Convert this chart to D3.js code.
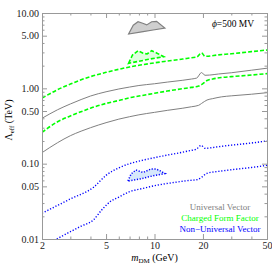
<!DOCTYPE html>
<html>
<head>
<meta charset="utf-8">
<script src="https://d3js.org/d3.v7.min.js"></script>
<style>
body { margin:0; background:white; }
text { font-family:"Liberation Serif","Times New Roman",serif; }
.frame path, .frame line { stroke:#999; }
</style>
</head>
<body>
<svg id="chart"></svg>
<script>
// curves: [m_DM (GeV), Lambda_eff (TeV)]
var univHigh = [[2,0.40],[2.5,0.52],[3,0.62],[3.5,0.71],[4,0.79],[5,0.90],[6,0.98],[7,1.04],[8,1.09],[10,1.15],[12,1.21],[15,1.28],[17,1.33],[18.3,1.37],[19.6,1.62],[20.6,1.49],[22,1.50],[25,1.55],[30,1.61],[40,1.74],[50,1.85]];
var univLow = [[2,0.14],[2.5,0.19],[3,0.235],[3.5,0.27],[4,0.30],[5,0.35],[6,0.39],[7,0.42],[8,0.445],[10,0.48],[12,0.51],[15,0.545],[17,0.57],[18.8,0.595],[19.6,0.63],[21.2,0.70],[23,0.73],[26,0.77],[30,0.795],[40,0.835],[50,0.875]];
var cffHigh = [[2,0.74],[2.5,0.96],[3,1.14],[3.5,1.30],[4,1.43],[5,1.63],[6,1.79],[7,1.92],[8,2.02],[10,2.18],[12,2.30],[15,2.45],[17,2.55],[18.3,2.60],[19.6,2.95],[20.6,2.66],[25,2.78],[30,2.88],[40,3.07],[50,3.23]];
var cffLow = [[2,0.26],[2.5,0.36],[3,0.43],[3.5,0.49],[4,0.545],[5,0.63],[6,0.69],[7,0.75],[8,0.79],[10,0.86],[12,0.92],[15,0.99],[17,1.03],[18.8,1.07],[19.6,1.12],[21.2,1.27],[23,1.33],[26,1.39],[30,1.43],[40,1.50],[50,1.57]];
var nuvHigh = [[2,0.022],[3,0.034],[4.2,0.049],[5,0.070],[6,0.088],[7,0.100],[8,0.108],[10,0.120],[12,0.130],[14,0.138],[16.6,0.149],[18.2,0.156],[19.5,0.175],[20.6,0.160],[25,0.168],[30,0.176],[40,0.188],[50,0.200]];
var nuvLow = [[2.47,0.01],[3,0.0125],[3.5,0.0148],[4.17,0.0179],[4.7,0.0243],[5.3,0.0313],[6,0.036],[7,0.0425],[8.5,0.047],[10,0.051],[13,0.056],[16.6,0.060],[18.5,0.0615],[19.6,0.066],[21.2,0.0745],[25,0.079],[30,0.083],[40,0.089],[50,0.095]];

// closed regions
var univIsland = [[6.9,5.25],[7.38,6.9],[7.9,7.65],[8.45,7.3],[8.95,6.95],[9.6,7.65],[10.3,7.75],[11.6,6.3],[9.8,5.95],[8.5,5.65]];
var cffIsland = [[6.9,2.15],[7.3,2.77],[7.9,3.16],[8.5,2.92],[9.0,2.86],[9.6,3.16],[10.3,2.95],[11.4,2.63],[9.2,2.43]];
var nuvIsland = [[6.84,0.0589],[7.15,0.0729],[7.67,0.0824],[8.48,0.0763],[9.51,0.0849],[10.07,0.085],[10.6,0.0824],[11.62,0.074],[9.38,0.0676],[8.12,0.0625]];

var xTicks = [2,5,10,20,50];
var xMinor = [3,4,6,7,8,9,30,40];
var yTicks = [10,5,1,0.5,0.1,0.05,0.01];
var yMinor = [0.02,0.03,0.04,0.06,0.07,0.08,0.09,0.2,0.3,0.4,0.6,0.7,0.8,0.9,2,3,4,6,7,8,9];

var legendNames = ["Universal Vector","Charged Form Factor","Non\u2212Universal Vector"];
var legendColors = ["#808080","#00ff00","#0000ff"];

var screen = {width:272, height:267};
var margins = {top:13, bottom:28, left:42, right:5};
var graph = {
    width:screen.width-margins.left-margins.right,
    height:screen.height-margins.top-margins.bottom
};

var svg = d3.select("#chart")
    .attr("width", screen.width)
    .attr("height", screen.height);

var x = d3.scaleLog().domain([2,50]).range([0,graph.width]);
var y = d3.scaleLog().domain([0.01,10]).range([graph.height,0]);

svg.append("defs").append("clipPath")
    .attr("id","clip")
    .append("rect")
    .attr("width", graph.width)
    .attr("height", graph.height);

var g = svg.append("g")
    .attr("transform","translate("+margins.left+","+margins.top+")");

var plot = g.append("g").attr("clip-path","url(#clip)");

var line = d3.line()
    .x(function(d){ return x(d[0]); })
    .y(function(d){ return y(d[1]); })
    .curve(d3.curveMonotoneX);

var shape = d3.line()
    .x(function(d){ return x(d[0]); })
    .y(function(d){ return y(d[1]); })
    .curve(d3.curveLinearClosed);

// islands
plot.append("path").datum(univIsland)
    .attr("d", shape)
    .attr("fill","#cfcfcf")
    .attr("stroke","#808080")
    .attr("stroke-width",1.2);
plot.append("path").datum(cffIsland)
    .attr("d", shape)
    .attr("fill","#e0ffe0")
    .attr("stroke","#00ff00")
    .attr("stroke-width",1.6)
    .attr("stroke-dasharray","4,2");
plot.append("path").datum(nuvIsland)
    .attr("d", shape)
    .attr("fill","#d6e8fb")
    .attr("stroke","#0000ff")
    .attr("stroke-width",1.5)
    .attr("stroke-dasharray","1.2,1.6");

// curves
var curves = [
    {data:univHigh, color:"#808080", width:1, dash:null},
    {data:univLow, color:"#808080", width:1, dash:null},
    {data:cffHigh, color:"#00ff00", width:1.6, dash:"4,2"},
    {data:cffLow, color:"#00ff00", width:1.6, dash:"4,2"},
    {data:nuvHigh, color:"#0000ff", width:1.4, dash:"1.2,1.8"},
    {data:nuvLow, color:"#0000ff", width:1.4, dash:"1.2,1.8"}
];
curves.forEach(function(c)
{
    plot.append("path").datum(c.data)
        .attr("d", line)
        .attr("fill","none")
        .attr("stroke", c.color)
        .attr("stroke-width", c.width)
        .attr("stroke-dasharray", c.dash);
});

// frame with inward ticks
var fmtY = d3.format(".2f");
var addAxis = function(axis, tx, ty)
{
    var a = g.append("g")
        .classed("frame", true)
        .attr("transform","translate("+tx+","+ty+")")
        .call(axis);
    a.selectAll("text")
        .attr("font-size", 10)
        .attr("fill","#222");
    return a;
};
addAxis(d3.axisBottom(x).tickValues(xTicks).tickSize(-5).tickPadding(3).tickFormat(d3.format("d")), 0, graph.height);
addAxis(d3.axisBottom(x).tickValues(xMinor).tickSize(-2.5).tickFormat(""), 0, graph.height);
addAxis(d3.axisTop(x).tickValues(xTicks).tickSize(-5).tickFormat(""), 0, 0);
addAxis(d3.axisTop(x).tickValues(xMinor).tickSize(-2.5).tickFormat(""), 0, 0);
addAxis(d3.axisLeft(y).tickValues(yTicks).tickSize(-5).tickPadding(3).tickFormat(fmtY), 0, 0);
addAxis(d3.axisLeft(y).tickValues(yMinor).tickSize(-2.5).tickFormat(""), 0, 0);
addAxis(d3.axisRight(y).tickValues(yTicks).tickSize(-5).tickFormat(""), graph.width, 0);
addAxis(d3.axisRight(y).tickValues(yMinor).tickSize(-2.5).tickFormat(""), graph.width, 0);

// axis labels
var xl = svg.append("text")
    .attr("x", margins.left+graph.width/2)
    .attr("y", 261)
    .attr("text-anchor","middle")
    .attr("font-size", 10);
xl.append("tspan").attr("font-style","italic").text("m");
xl.append("tspan").attr("font-size", 7).attr("dy", 2).text("DM");
xl.append("tspan").attr("dy", -2).text(" (GeV)");

var yl = svg.append("text")
    .attr("transform","translate(12,"+(margins.top+graph.height/2-6)+") rotate(-90)")
    .attr("text-anchor","middle")
    .attr("font-size", 10);
yl.append("tspan").text("\u039b");
yl.append("tspan").attr("font-size", 7).attr("dy", 2).text("eff");
yl.append("tspan").attr("dy", -2).text(" (TeV)");

var ann = svg.append("text")
    .attr("x", 233)
    .attr("y", 27)
    .attr("text-anchor","middle")
    .attr("font-size", 9.5);
ann.append("tspan").attr("font-style","italic").text("\u03d5");
ann.append("tspan").text("=500 MV");

// legend
svg.append("g")
    .selectAll("text")
    .data(legendNames)
    .enter()
    .append("text")
    .attr("x", 220)
    .attr("y", function(d,i){ return 209.5 + i*11; })
    .attr("text-anchor","middle")
    .attr("font-size", 9)
    .attr("fill", function(d,i){ return legendColors[i]; })
    .text(function(d){ return d; });
</script>
</body>
</html>
